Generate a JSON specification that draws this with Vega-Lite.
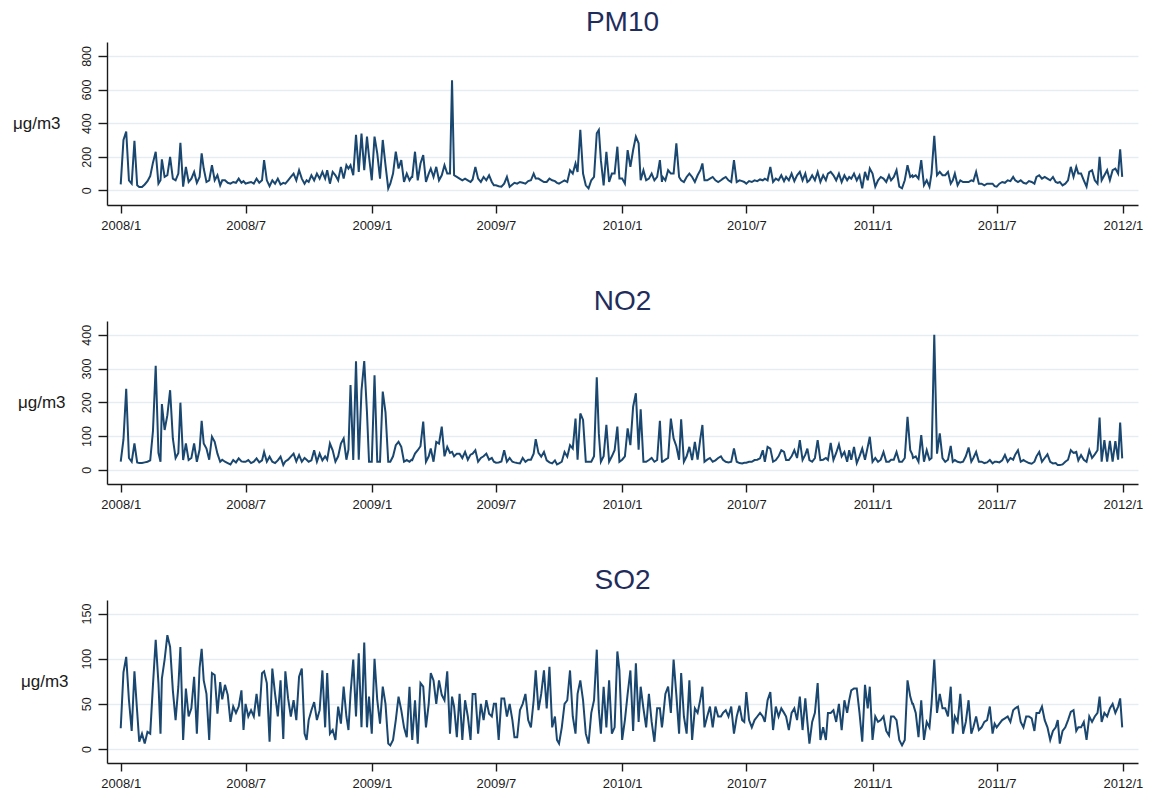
{
"$schema":"https://vega.github.io/schema/vega-lite/v6.json",
"background":"white",
"padding":{"left":12,"top":8,"right":5,"bottom":5},
"config":{"view":{"stroke":null},"font":"Liberation Sans",
"axis":{"labelFont":"Liberation Sans","titleFont":"Liberation Sans","domainColor":"#1a1a1a","tickColor":"#1a1a1a","labelColor":"#1a1a1a","titleColor":"#1a1a1a","domainWidth":1.4,"tickWidth":1.4},
"title":{"font":"Liberation Sans","fontSize":28,"fontWeight":"normal","color":"#1f2d5c","anchor":"middle","frame":"group","baseline":"alphabetic","offset":5.5}},
"data":{"values":[
{"d":"2008-01-01","p":36,"n":24,"s":23},{"d":"2008-01-05","p":300,"n":90,"s":85},{"d":"2008-01-09","p":350,"n":240,"s":102},{"d":"2008-01-13","p":60,"n":35,"s":54},{"d":"2008-01-17","p":40,"n":24,"s":20},{"d":"2008-01-21","p":295,"n":78,"s":86},{"d":"2008-01-25","p":30,"n":22,"s":41},{"d":"2008-01-28","p":20,"n":20,"s":8},
{"d":"2008-02-01","p":20,"n":20,"s":17},{"d":"2008-02-05","p":35,"n":22,"s":6},{"d":"2008-02-09","p":55,"n":24,"s":19},{"d":"2008-02-13","p":85,"n":28,"s":17},{"d":"2008-02-17","p":165,"n":115,"s":71},{"d":"2008-02-21","p":230,"n":308,"s":121},{"d":"2008-02-25","p":40,"n":50,"s":73},{"d":"2008-02-28","p":60,"n":24,"s":17},
{"d":"2008-03-01","p":185,"n":195,"s":78},{"d":"2008-03-05","p":80,"n":118,"s":99},{"d":"2008-03-09","p":90,"n":162,"s":126},{"d":"2008-03-13","p":200,"n":236,"s":113},{"d":"2008-03-17","p":70,"n":93,"s":65},{"d":"2008-03-21","p":60,"n":35,"s":32},{"d":"2008-03-25","p":100,"n":50,"s":69},{"d":"2008-03-28","p":283,"n":199,"s":113},
{"d":"2008-04-01","p":22,"n":29,"s":10},{"d":"2008-04-05","p":140,"n":78,"s":67},{"d":"2008-04-09","p":50,"n":29,"s":36},{"d":"2008-04-13","p":70,"n":35,"s":45},{"d":"2008-04-17","p":110,"n":78,"s":80},{"d":"2008-04-21","p":45,"n":24,"s":17},{"d":"2008-04-25","p":80,"n":60,"s":90},{"d":"2008-04-28","p":220,"n":145,"s":111},
{"d":"2008-05-01","p":130,"n":78,"s":76},{"d":"2008-05-05","p":50,"n":63,"s":61},{"d":"2008-05-09","p":60,"n":30,"s":10},{"d":"2008-05-13","p":150,"n":98,"s":84},{"d":"2008-05-17","p":60,"n":83,"s":82},{"d":"2008-05-21","p":90,"n":48,"s":39},{"d":"2008-05-25","p":30,"n":24,"s":74},{"d":"2008-05-28","p":60,"n":30,"s":55},
{"d":"2008-06-01","p":60,"n":24,"s":71},{"d":"2008-06-05","p":45,"n":20,"s":60},{"d":"2008-06-09","p":40,"n":16,"s":30},{"d":"2008-06-13","p":50,"n":29,"s":47},{"d":"2008-06-17","p":45,"n":22,"s":40},{"d":"2008-06-21","p":70,"n":34,"s":47},{"d":"2008-06-25","p":45,"n":25,"s":65},{"d":"2008-06-28","p":55,"n":24,"s":21},
{"d":"2008-07-01","p":40,"n":24,"s":50},{"d":"2008-07-05","p":45,"n":29,"s":36},{"d":"2008-07-09","p":50,"n":20,"s":43},{"d":"2008-07-13","p":40,"n":24,"s":36},{"d":"2008-07-17","p":70,"n":34,"s":61},{"d":"2008-07-21","p":45,"n":22,"s":36},{"d":"2008-07-25","p":60,"n":28,"s":84},{"d":"2008-07-28","p":180,"n":53,"s":86},
{"d":"2008-08-01","p":60,"n":24,"s":73},{"d":"2008-08-05","p":25,"n":39,"s":8},{"d":"2008-08-09","p":60,"n":24,"s":89},{"d":"2008-08-13","p":40,"n":20,"s":61},{"d":"2008-08-17","p":70,"n":28,"s":36},{"d":"2008-08-21","p":35,"n":39,"s":76},{"d":"2008-08-25","p":45,"n":14,"s":11},{"d":"2008-08-28","p":40,"n":25,"s":86},
{"d":"2008-09-01","p":60,"n":30,"s":56},{"d":"2008-09-05","p":80,"n":39,"s":36},{"d":"2008-09-09","p":100,"n":48,"s":54},{"d":"2008-09-13","p":60,"n":25,"s":32},{"d":"2008-09-17","p":120,"n":44,"s":80},{"d":"2008-09-21","p":70,"n":24,"s":89},{"d":"2008-09-25","p":40,"n":35,"s":17},{"d":"2008-09-28","p":60,"n":30,"s":10},
{"d":"2008-10-01","p":50,"n":24,"s":32},{"d":"2008-10-05","p":90,"n":28,"s":43},{"d":"2008-10-09","p":60,"n":58,"s":52},{"d":"2008-10-13","p":100,"n":24,"s":32},{"d":"2008-10-17","p":70,"n":48,"s":43},{"d":"2008-10-21","p":110,"n":28,"s":87},{"d":"2008-10-25","p":70,"n":40,"s":24},{"d":"2008-10-28","p":120,"n":30,"s":84},
{"d":"2008-11-01","p":40,"n":78,"s":17},{"d":"2008-11-05","p":110,"n":58,"s":21},{"d":"2008-11-09","p":90,"n":24,"s":10},{"d":"2008-11-13","p":60,"n":40,"s":47},{"d":"2008-11-17","p":140,"n":78,"s":28},{"d":"2008-11-21","p":70,"n":93,"s":69},{"d":"2008-11-25","p":150,"n":30,"s":36},{"d":"2008-11-28","p":130,"n":60,"s":21},
{"d":"2008-12-01","p":150,"n":251,"s":61},{"d":"2008-12-05","p":90,"n":29,"s":99},{"d":"2008-12-09","p":330,"n":322,"s":36},{"d":"2008-12-13","p":110,"n":30,"s":106},{"d":"2008-12-17","p":338,"n":235,"s":24},{"d":"2008-12-21","p":120,"n":322,"s":118},{"d":"2008-12-25","p":320,"n":170,"s":24},{"d":"2008-12-28","p":200,"n":24,"s":58},
{"d":"2009-01-01","p":60,"n":24,"s":17},{"d":"2009-01-05","p":320,"n":280,"s":100},{"d":"2009-01-09","p":220,"n":24,"s":54},{"d":"2009-01-13","p":70,"n":24,"s":28},{"d":"2009-01-17","p":300,"n":232,"s":69},{"d":"2009-01-21","p":150,"n":170,"s":50},{"d":"2009-01-25","p":12,"n":24,"s":6},{"d":"2009-01-28","p":40,"n":24,"s":4},
{"d":"2009-02-01","p":100,"n":40,"s":10},{"d":"2009-02-05","p":230,"n":73,"s":32},{"d":"2009-02-09","p":130,"n":83,"s":58},{"d":"2009-02-13","p":180,"n":68,"s":43},{"d":"2009-02-17","p":50,"n":24,"s":24},{"d":"2009-02-21","p":100,"n":29,"s":13},{"d":"2009-02-25","p":60,"n":24,"s":69},{"d":"2009-02-28","p":80,"n":30,"s":21},
{"d":"2009-03-01","p":80,"n":29,"s":10},{"d":"2009-03-05","p":230,"n":48,"s":54},{"d":"2009-03-09","p":60,"n":58,"s":6},{"d":"2009-03-13","p":160,"n":70,"s":73},{"d":"2009-03-17","p":210,"n":143,"s":69},{"d":"2009-03-21","p":50,"n":24,"s":24},{"d":"2009-03-25","p":100,"n":40,"s":50},{"d":"2009-03-28","p":130,"n":63,"s":84},
{"d":"2009-04-01","p":80,"n":24,"s":76},{"d":"2009-04-05","p":140,"n":83,"s":50},{"d":"2009-04-09","p":60,"n":78,"s":76},{"d":"2009-04-13","p":90,"n":128,"s":60},{"d":"2009-04-17","p":150,"n":40,"s":54},{"d":"2009-04-21","p":100,"n":68,"s":86},{"d":"2009-04-25","p":100,"n":50,"s":17},{"d":"2009-04-28","p":655,"n":53,"s":58},
{"d":"2009-05-01","p":90,"n":40,"s":47},{"d":"2009-05-05","p":80,"n":48,"s":13},{"d":"2009-05-09","p":70,"n":48,"s":61},{"d":"2009-05-13","p":60,"n":35,"s":10},{"d":"2009-05-17","p":70,"n":53,"s":54},{"d":"2009-05-21","p":60,"n":30,"s":36},{"d":"2009-05-25","p":50,"n":45,"s":10},{"d":"2009-05-28","p":65,"n":48,"s":61},
{"d":"2009-06-01","p":140,"n":58,"s":61},{"d":"2009-06-05","p":70,"n":24,"s":17},{"d":"2009-06-09","p":50,"n":35,"s":50},{"d":"2009-06-13","p":80,"n":40,"s":32},{"d":"2009-06-17","p":60,"n":48,"s":54},{"d":"2009-06-21","p":90,"n":30,"s":39},{"d":"2009-06-25","p":50,"n":35,"s":36},{"d":"2009-06-28","p":30,"n":24,"s":50},
{"d":"2009-07-01","p":30,"n":21,"s":50},{"d":"2009-07-05","p":25,"n":22,"s":10},{"d":"2009-07-09","p":22,"n":25,"s":56},{"d":"2009-07-13","p":40,"n":58,"s":56},{"d":"2009-07-17","p":80,"n":24,"s":36},{"d":"2009-07-21","p":22,"n":35,"s":50},{"d":"2009-07-25","p":35,"n":24,"s":32},{"d":"2009-07-28","p":45,"n":22,"s":13},
{"d":"2009-08-01","p":40,"n":20,"s":13},{"d":"2009-08-05","p":50,"n":19,"s":43},{"d":"2009-08-09","p":45,"n":35,"s":50},{"d":"2009-08-13","p":40,"n":24,"s":61},{"d":"2009-08-17","p":55,"n":30,"s":32},{"d":"2009-08-21","p":60,"n":30,"s":24},{"d":"2009-08-25","p":100,"n":48,"s":54},{"d":"2009-08-28","p":70,"n":91,"s":87},
{"d":"2009-09-01","p":70,"n":50,"s":43},{"d":"2009-09-05","p":60,"n":39,"s":61},{"d":"2009-09-09","p":50,"n":53,"s":87},{"d":"2009-09-13","p":50,"n":28,"s":45},{"d":"2009-09-17","p":70,"n":22,"s":91},{"d":"2009-09-21","p":60,"n":19,"s":24},{"d":"2009-09-25","p":55,"n":28,"s":36},{"d":"2009-09-28","p":45,"n":16,"s":10},
{"d":"2009-10-01","p":40,"n":19,"s":6},{"d":"2009-10-05","p":50,"n":24,"s":24},{"d":"2009-10-09","p":60,"n":53,"s":50},{"d":"2009-10-13","p":50,"n":39,"s":54},{"d":"2009-10-17","p":120,"n":73,"s":87},{"d":"2009-10-21","p":100,"n":63,"s":36},{"d":"2009-10-25","p":160,"n":152,"s":17},{"d":"2009-10-28","p":110,"n":30,"s":61},
{"d":"2009-11-01","p":360,"n":167,"s":76},{"d":"2009-11-05","p":100,"n":148,"s":54},{"d":"2009-11-09","p":30,"n":24,"s":17},{"d":"2009-11-13","p":12,"n":24,"s":6},{"d":"2009-11-17","p":60,"n":24,"s":40},{"d":"2009-11-21","p":80,"n":40,"s":54},{"d":"2009-11-25","p":340,"n":274,"s":110},{"d":"2009-11-28","p":360,"n":108,"s":43},
{"d":"2009-12-01","p":180,"n":24,"s":17},{"d":"2009-12-05","p":30,"n":40,"s":69},{"d":"2009-12-09","p":230,"n":133,"s":24},{"d":"2009-12-13","p":50,"n":24,"s":76},{"d":"2009-12-17","p":100,"n":40,"s":17},{"d":"2009-12-21","p":100,"n":58,"s":24},{"d":"2009-12-25","p":260,"n":128,"s":108},{"d":"2009-12-28","p":70,"n":24,"s":87},
{"d":"2010-01-01","p":70,"n":30,"s":10},{"d":"2010-01-05","p":40,"n":40,"s":32},{"d":"2010-01-09","p":240,"n":123,"s":61},{"d":"2010-01-13","p":140,"n":73,"s":87},{"d":"2010-01-17","p":240,"n":187,"s":20},{"d":"2010-01-21","p":320,"n":227,"s":95},{"d":"2010-01-25","p":280,"n":60,"s":30},{"d":"2010-01-28","p":60,"n":179,"s":69},
{"d":"2010-02-01","p":120,"n":24,"s":45},{"d":"2010-02-05","p":60,"n":24,"s":24},{"d":"2010-02-09","p":70,"n":29,"s":61},{"d":"2010-02-13","p":100,"n":35,"s":30},{"d":"2010-02-17","p":60,"n":24,"s":8},{"d":"2010-02-21","p":80,"n":29,"s":45},{"d":"2010-02-25","p":180,"n":145,"s":45},{"d":"2010-02-28","p":50,"n":24,"s":24},
{"d":"2010-03-01","p":80,"n":24,"s":30},{"d":"2010-03-05","p":60,"n":30,"s":61},{"d":"2010-03-09","p":120,"n":35,"s":69},{"d":"2010-03-13","p":100,"n":152,"s":40},{"d":"2010-03-17","p":100,"n":93,"s":99},{"d":"2010-03-21","p":280,"n":70,"s":60},{"d":"2010-03-25","p":80,"n":30,"s":17},{"d":"2010-03-28","p":60,"n":150,"s":84},
{"d":"2010-04-01","p":50,"n":24,"s":36},{"d":"2010-04-05","p":80,"n":40,"s":17},{"d":"2010-04-09","p":100,"n":68,"s":76},{"d":"2010-04-13","p":80,"n":29,"s":10},{"d":"2010-04-17","p":50,"n":83,"s":45},{"d":"2010-04-21","p":90,"n":30,"s":40},{"d":"2010-04-25","p":120,"n":93,"s":55},{"d":"2010-04-28","p":160,"n":133,"s":69},
{"d":"2010-05-01","p":60,"n":24,"s":24},{"d":"2010-05-05","p":60,"n":30,"s":36},{"d":"2010-05-09","p":70,"n":35,"s":47},{"d":"2010-05-13","p":80,"n":24,"s":24},{"d":"2010-05-17","p":60,"n":28,"s":47},{"d":"2010-05-21","p":50,"n":35,"s":36},{"d":"2010-05-25","p":60,"n":40,"s":36},{"d":"2010-05-28","p":70,"n":30,"s":40},
{"d":"2010-06-01","p":80,"n":24,"s":43},{"d":"2010-06-05","p":60,"n":22,"s":36},{"d":"2010-06-09","p":50,"n":24,"s":47},{"d":"2010-06-13","p":180,"n":63,"s":17},{"d":"2010-06-17","p":50,"n":24,"s":36},{"d":"2010-06-21","p":60,"n":20,"s":48},{"d":"2010-06-25","p":55,"n":19,"s":32},{"d":"2010-06-28","p":50,"n":21,"s":30},
{"d":"2010-07-01","p":40,"n":21,"s":63},{"d":"2010-07-05","p":55,"n":24,"s":32},{"d":"2010-07-09","p":50,"n":24,"s":24},{"d":"2010-07-13","p":60,"n":29,"s":32},{"d":"2010-07-17","p":55,"n":30,"s":36},{"d":"2010-07-21","p":65,"n":34,"s":40},{"d":"2010-07-25","p":60,"n":58,"s":36},{"d":"2010-07-28","p":70,"n":24,"s":30},
{"d":"2010-08-01","p":60,"n":68,"s":54},{"d":"2010-08-05","p":140,"n":63,"s":63},{"d":"2010-08-09","p":50,"n":24,"s":21},{"d":"2010-08-13","p":70,"n":29,"s":47},{"d":"2010-08-17","p":60,"n":40,"s":36},{"d":"2010-08-21","p":90,"n":58,"s":45},{"d":"2010-08-25","p":55,"n":53,"s":40},{"d":"2010-08-28","p":80,"n":29,"s":36},
{"d":"2010-09-01","p":60,"n":29,"s":21},{"d":"2010-09-05","p":100,"n":40,"s":40},{"d":"2010-09-09","p":55,"n":58,"s":45},{"d":"2010-09-13","p":90,"n":35,"s":32},{"d":"2010-09-17","p":110,"n":88,"s":58},{"d":"2010-09-21","p":60,"n":29,"s":21},{"d":"2010-09-25","p":100,"n":45,"s":56},{"d":"2010-09-28","p":50,"n":63,"s":30},
{"d":"2010-10-01","p":60,"n":29,"s":6},{"d":"2010-10-05","p":90,"n":24,"s":30},{"d":"2010-10-09","p":60,"n":35,"s":40},{"d":"2010-10-13","p":110,"n":88,"s":73},{"d":"2010-10-17","p":50,"n":29,"s":10},{"d":"2010-10-21","p":90,"n":30,"s":24},{"d":"2010-10-25","p":60,"n":35,"s":10},{"d":"2010-10-28","p":100,"n":29,"s":40},
{"d":"2010-11-01","p":110,"n":80,"s":40},{"d":"2010-11-05","p":90,"n":29,"s":43},{"d":"2010-11-09","p":60,"n":50,"s":30},{"d":"2010-11-13","p":100,"n":75,"s":50},{"d":"2010-11-17","p":50,"n":40,"s":21},{"d":"2010-11-21","p":90,"n":53,"s":54},{"d":"2010-11-25","p":60,"n":24,"s":40},{"d":"2010-11-28","p":80,"n":58,"s":54},
{"d":"2010-12-01","p":70,"n":30,"s":65},{"d":"2010-12-05","p":100,"n":68,"s":67},{"d":"2010-12-09","p":60,"n":20,"s":67},{"d":"2010-12-13","p":90,"n":40,"s":40},{"d":"2010-12-17","p":12,"n":63,"s":8},{"d":"2010-12-21","p":110,"n":30,"s":71},{"d":"2010-12-25","p":60,"n":68,"s":45},{"d":"2010-12-28","p":130,"n":98,"s":69},
{"d":"2011-01-01","p":100,"n":24,"s":10},{"d":"2011-01-05","p":22,"n":35,"s":36},{"d":"2011-01-09","p":60,"n":24,"s":30},{"d":"2011-01-13","p":80,"n":30,"s":32},{"d":"2011-01-17","p":70,"n":53,"s":36},{"d":"2011-01-21","p":50,"n":24,"s":20},{"d":"2011-01-25","p":90,"n":24,"s":15},{"d":"2011-01-28","p":60,"n":30,"s":36},
{"d":"2011-02-01","p":80,"n":30,"s":36},{"d":"2011-02-05","p":120,"n":53,"s":32},{"d":"2011-02-09","p":22,"n":24,"s":10},{"d":"2011-02-13","p":12,"n":24,"s":4},{"d":"2011-02-17","p":60,"n":35,"s":10},{"d":"2011-02-21","p":150,"n":157,"s":76},{"d":"2011-02-25","p":80,"n":58,"s":58},{"d":"2011-02-28","p":90,"n":45,"s":50},
{"d":"2011-03-01","p":80,"n":35,"s":50},{"d":"2011-03-05","p":90,"n":40,"s":40},{"d":"2011-03-09","p":70,"n":24,"s":13},{"d":"2011-03-13","p":180,"n":103,"s":54},{"d":"2011-03-17","p":30,"n":24,"s":10},{"d":"2011-03-21","p":60,"n":58,"s":30},{"d":"2011-03-25","p":22,"n":30,"s":24},{"d":"2011-03-28","p":100,"n":35,"s":50},
{"d":"2011-04-01","p":325,"n":400,"s":99},{"d":"2011-04-05","p":90,"n":48,"s":40},{"d":"2011-04-09","p":110,"n":108,"s":61},{"d":"2011-04-13","p":90,"n":35,"s":45},{"d":"2011-04-17","p":90,"n":24,"s":45},{"d":"2011-04-21","p":110,"n":30,"s":36},{"d":"2011-04-25","p":40,"n":71,"s":69},{"d":"2011-04-28","p":60,"n":24,"s":17},
{"d":"2011-05-01","p":100,"n":29,"s":36},{"d":"2011-05-05","p":30,"n":24,"s":30},{"d":"2011-05-09","p":60,"n":22,"s":61},{"d":"2011-05-13","p":50,"n":24,"s":17},{"d":"2011-05-17","p":50,"n":40,"s":30},{"d":"2011-05-21","p":50,"n":66,"s":54},{"d":"2011-05-25","p":60,"n":24,"s":17},{"d":"2011-05-28","p":55,"n":35,"s":24},
{"d":"2011-06-01","p":110,"n":53,"s":36},{"d":"2011-06-05","p":40,"n":24,"s":21},{"d":"2011-06-09","p":40,"n":24,"s":24},{"d":"2011-06-13","p":30,"n":20,"s":30},{"d":"2011-06-17","p":40,"n":22,"s":32},{"d":"2011-06-21","p":40,"n":29,"s":47},{"d":"2011-06-25","p":40,"n":19,"s":17},{"d":"2011-06-28","p":25,"n":24,"s":28},
{"d":"2011-07-01","p":22,"n":24,"s":24},{"d":"2011-07-05","p":40,"n":22,"s":28},{"d":"2011-07-09","p":50,"n":28,"s":32},{"d":"2011-07-13","p":45,"n":44,"s":34},{"d":"2011-07-17","p":60,"n":24,"s":36},{"d":"2011-07-21","p":55,"n":35,"s":30},{"d":"2011-07-25","p":80,"n":30,"s":43},{"d":"2011-07-28","p":60,"n":45,"s":45},
{"d":"2011-08-01","p":50,"n":58,"s":47},{"d":"2011-08-05","p":60,"n":24,"s":30},{"d":"2011-08-09","p":45,"n":29,"s":24},{"d":"2011-08-13","p":40,"n":24,"s":36},{"d":"2011-08-17","p":55,"n":20,"s":36},{"d":"2011-08-21","p":50,"n":18,"s":34},{"d":"2011-08-25","p":40,"n":24,"s":20},{"d":"2011-08-28","p":80,"n":40,"s":40},
{"d":"2011-09-01","p":90,"n":53,"s":40},{"d":"2011-09-05","p":70,"n":24,"s":47},{"d":"2011-09-09","p":80,"n":35,"s":32},{"d":"2011-09-13","p":70,"n":46,"s":24},{"d":"2011-09-17","p":60,"n":24,"s":10},{"d":"2011-09-21","p":80,"n":19,"s":20},{"d":"2011-09-25","p":50,"n":20,"s":24},{"d":"2011-09-28","p":45,"n":14,"s":32},
{"d":"2011-10-01","p":50,"n":14,"s":6},{"d":"2011-10-05","p":30,"n":16,"s":20},{"d":"2011-10-09","p":40,"n":24,"s":24},{"d":"2011-10-13","p":60,"n":30,"s":32},{"d":"2011-10-17","p":140,"n":58,"s":41},{"d":"2011-10-21","p":80,"n":50,"s":43},{"d":"2011-10-25","p":140,"n":53,"s":20},{"d":"2011-10-28","p":100,"n":28,"s":24},
{"d":"2011-11-01","p":100,"n":44,"s":24},{"d":"2011-11-05","p":60,"n":30,"s":30},{"d":"2011-11-09","p":22,"n":24,"s":10},{"d":"2011-11-13","p":110,"n":58,"s":36},{"d":"2011-11-17","p":120,"n":35,"s":30},{"d":"2011-11-21","p":60,"n":46,"s":36},{"d":"2011-11-25","p":40,"n":58,"s":40},{"d":"2011-11-28","p":200,"n":155,"s":58},
{"d":"2011-12-01","p":60,"n":24,"s":30},{"d":"2011-12-05","p":90,"n":88,"s":40},{"d":"2011-12-09","p":120,"n":24,"s":36},{"d":"2011-12-13","p":60,"n":86,"s":45},{"d":"2011-12-17","p":120,"n":24,"s":50},{"d":"2011-12-21","p":130,"n":85,"s":40},{"d":"2011-12-25","p":100,"n":30,"s":47},{"d":"2011-12-28","p":245,"n":140,"s":56},{"d":"2011-12-31","p":80,"n":34,"s":24}
]},
"bounds":"flush",
"spacing":116,
"vconcat":[
{"width":1031,"height":163,"title":"PM10",
"mark":{"type":"line","color":"#1a476f","strokeWidth":2},
"encoding":{
"x":{"field":"d","type":"temporal","scale":{"type":"utc","domain":[{"year":2007,"month":12,"date":12,"utc":true},{"year":2012,"month":1,"date":23,"utc":true}]},
"axis":{"title":null,"grid":false,"values":[{"year":2008,"month":1,"date":1,"utc":true},{"year":2008,"month":7,"date":1,"utc":true},{"year":2009,"month":1,"date":1,"utc":true},{"year":2009,"month":7,"date":1,"utc":true},{"year":2010,"month":1,"date":1,"utc":true},{"year":2010,"month":7,"date":1,"utc":true},{"year":2011,"month":1,"date":1,"utc":true},{"year":2011,"month":7,"date":1,"utc":true},{"year":2012,"month":1,"date":1,"utc":true}],"labelExpr":"utcFormat(datum.value, '%Y/%-m')","tickSize":8,"labelPadding":6,"labelFontSize":13,"labelOverlap":false,"labelFlush":false}},
"y":{"field":"p","type":"quantitative","scale":{"domain":[-87,883],"nice":false,"zero":false},
"axis":{"values":[0,200,400,600,800],"title":"μg/m3","titleAngle":0,"titleAlign":"right","titleBaseline":"middle","titleX":-47,"titleY":81.5,"titleFontSize":17,"titleFontWeight":"normal","grid":true,"gridColor":"#e6edf1","gridWidth":1.6,"tickSize":9,"labelAngle":-90,"labelAlign":"center","labelBaseline":"alphabetic","labelPadding":8,"labelFontSize":12.5}}}},
{"width":1031,"height":163,"title":"NO2",
"mark":{"type":"line","color":"#1a476f","strokeWidth":2},
"encoding":{
"x":{"field":"d","type":"temporal","scale":{"type":"utc","domain":[{"year":2007,"month":12,"date":12,"utc":true},{"year":2012,"month":1,"date":23,"utc":true}]},
"axis":{"title":null,"grid":false,"values":[{"year":2008,"month":1,"date":1,"utc":true},{"year":2008,"month":7,"date":1,"utc":true},{"year":2009,"month":1,"date":1,"utc":true},{"year":2009,"month":7,"date":1,"utc":true},{"year":2010,"month":1,"date":1,"utc":true},{"year":2010,"month":7,"date":1,"utc":true},{"year":2011,"month":1,"date":1,"utc":true},{"year":2011,"month":7,"date":1,"utc":true},{"year":2012,"month":1,"date":1,"utc":true}],"labelExpr":"utcFormat(datum.value, '%Y/%-m')","tickSize":8,"labelPadding":6,"labelFontSize":13,"labelOverlap":false,"labelFlush":false}},
"y":{"field":"n","type":"quantitative","scale":{"domain":[-42,441],"nice":false,"zero":false},
"axis":{"values":[0,100,200,300,400],"title":"μg/m3","titleAngle":0,"titleAlign":"right","titleBaseline":"middle","titleX":-42,"titleY":81.5,"titleFontSize":17,"titleFontWeight":"normal","grid":true,"gridColor":"#e6edf1","gridWidth":1.6,"tickSize":9,"labelAngle":-90,"labelAlign":"center","labelBaseline":"alphabetic","labelPadding":8,"labelFontSize":12.5}}}},
{"width":1031,"height":163,"title":"SO2",
"mark":{"type":"line","color":"#1a476f","strokeWidth":2},
"encoding":{
"x":{"field":"d","type":"temporal","scale":{"type":"utc","domain":[{"year":2007,"month":12,"date":12,"utc":true},{"year":2012,"month":1,"date":23,"utc":true}]},
"axis":{"title":null,"grid":false,"values":[{"year":2008,"month":1,"date":1,"utc":true},{"year":2008,"month":7,"date":1,"utc":true},{"year":2009,"month":1,"date":1,"utc":true},{"year":2009,"month":7,"date":1,"utc":true},{"year":2010,"month":1,"date":1,"utc":true},{"year":2010,"month":7,"date":1,"utc":true},{"year":2011,"month":1,"date":1,"utc":true},{"year":2011,"month":7,"date":1,"utc":true},{"year":2012,"month":1,"date":1,"utc":true}],"labelExpr":"utcFormat(datum.value, '%Y/%-m')","tickSize":8,"labelPadding":6,"labelFontSize":13,"labelOverlap":false,"labelFlush":false}},
"y":{"field":"s","type":"quantitative","scale":{"domain":[-15.5,165],"nice":false,"zero":false},
"axis":{"values":[0,50,100,150],"title":"μg/m3","titleAngle":0,"titleAlign":"right","titleBaseline":"middle","titleX":-39,"titleY":81.5,"titleFontSize":17,"titleFontWeight":"normal","grid":true,"gridColor":"#e6edf1","gridWidth":1.6,"tickSize":9,"labelAngle":-90,"labelAlign":"center","labelBaseline":"alphabetic","labelPadding":8,"labelFontSize":12.5}}}}
]
}
